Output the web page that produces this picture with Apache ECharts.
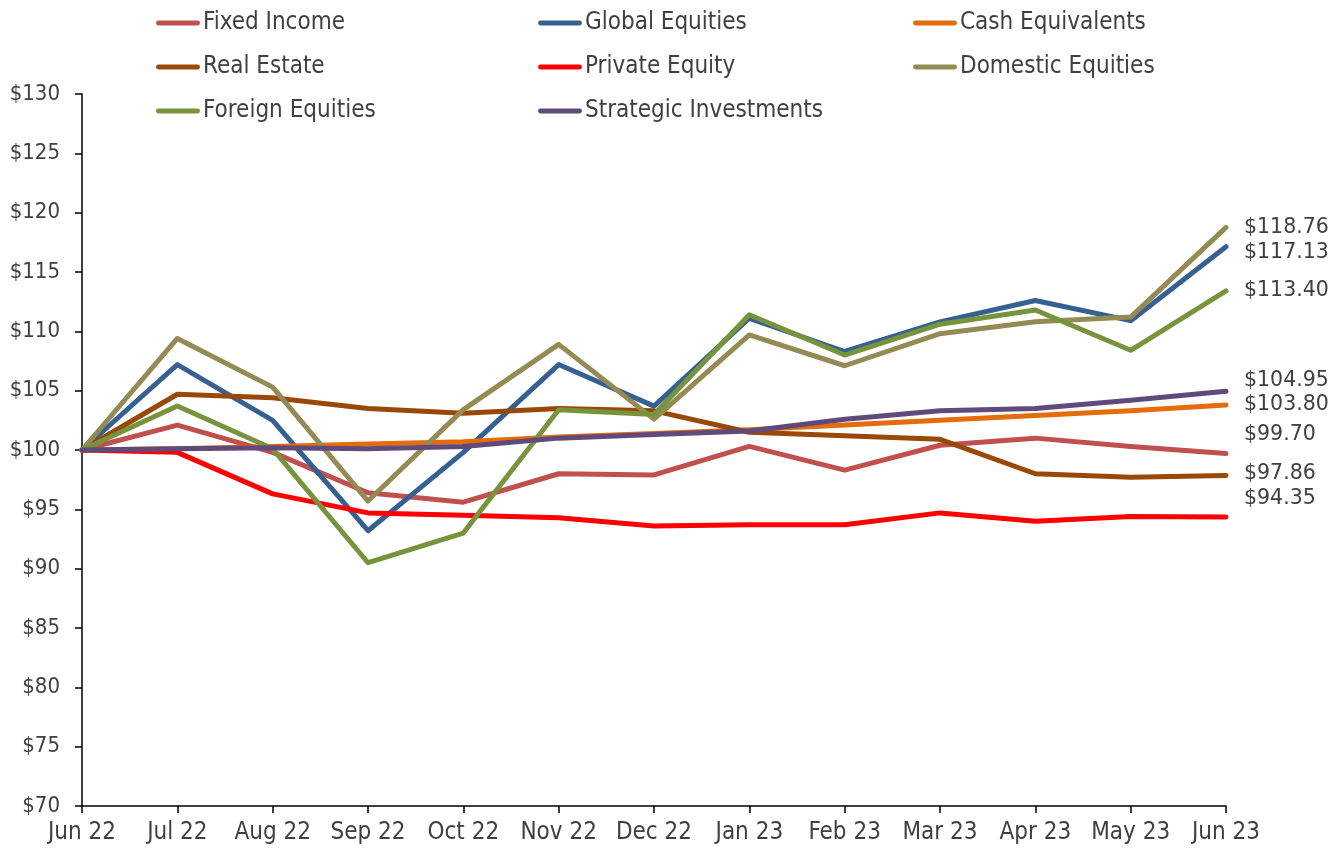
<!DOCTYPE html>
<html>
<head>
<meta charset="UTF-8"/>
<title>Asset class growth of $100</title>
<script src="https://cdn.jsdelivr.net/npm/echarts@6/dist/echarts.min.js"></script>
<style>
  html, body { margin: 0; padding: 0; background: #fff; }
  #chart { width: 1342px; height: 851px; }
</style>
</head>
<body>
<div id="chart"></div>
<script>
var months = ['Jun 22','Jul 22','Aug 22','Sep 22','Oct 22','Nov 22','Dec 22','Jan 23','Feb 23','Mar 23','Apr 23','May 23','Jun 23'];

var fixedIncome     = [100, 102.1, 99.8, 96.4, 95.6, 98.0, 97.9, 100.3, 98.3, 100.4, 101.0, 100.3, 99.70];
var globalEquities  = [100, 107.2, 102.5, 93.2, 99.8, 107.2, 103.7, 111.1, 108.3, 110.8, 112.6, 110.9, 117.13];
var cashEquivalents = [100, 100.1, 100.3, 100.5, 100.7, 101.1, 101.4, 101.7, 102.1, 102.5, 102.9, 103.3, 103.80];
var realEstate      = [100, 104.7, 104.4, 103.5, 103.1, 103.5, 103.3, 101.5, 101.2, 100.9, 98.0, 97.7, 97.86];
var privateEquity   = [100, 99.8, 96.3, 94.7, 94.5, 94.3, 93.6, 93.7, 93.7, 94.7, 94.0, 94.4, 94.35];
var domesticEquities= [100, 109.4, 105.3, 95.7, 103.4, 108.9, 102.6, 109.7, 107.1, 109.8, 110.8, 111.2, 118.76];
var foreignEquities = [100, 103.7, 100.1, 90.5, 93.0, 103.4, 103.0, 111.4, 108.0, 110.6, 111.8, 108.4, 113.40];
var strategicInv    = [100, 100.1, 100.2, 100.1, 100.3, 101.0, 101.3, 101.6, 102.6, 103.3, 103.5, 104.2, 104.95];

var yTicks = { min: 70, max: 130, step: 5 };

var FONT = "'DejaVu Sans Condensed', 'DejaVu Sans', sans-serif";

// name, values, colour, vertical nudge of the end label
var seriesDefs = [
  ['Fixed Income', fixedIncome, '#C0504D', -19],
  ['Global Equities', globalEquities, '#376092', 6],
  ['Cash Equivalents', cashEquivalents, '#E46C0A', 0],
  ['Real Estate', realEstate, '#984807', -2],
  ['Private Equity', privateEquity, '#FF0000', -18],
  ['Domestic Equities', domesticEquities, '#948A54', 0],
  ['Foreign Equities', foreignEquities, '#77933C', 0],
  ['Strategic Investments', strategicInv, '#604A7B', -11]
];

var series = seriesDefs.map(function (d) {
  return {
    name: d[0],
    type: 'line',
    data: d[1],
    symbol: 'none',
    color: d[2],
    lineStyle: { width: 5, color: d[2], cap: 'round', join: 'round' },
    endLabel: {
      show: true,
      distance: 18,
      offset: [0, d[3]],
      formatter: function (p) { return '$' + Number(p.value).toFixed(2); },
      fontFamily: "'DejaVu Sans', sans-serif",
      fontSize: 20.5,
      color: '#404040'
    },
    emphasis: { disabled: true },
    animation: false
  };
});

var legendIcon = 'path://M2.5,0 h40 a2.5,2.5 0 0 1 0,5 h-40 a2.5,2.5 0 0 1 0,-5 z';
function legendCol(left, names) {
  return {
    orient: 'vertical',
    left: left,
    top: 11,
    padding: 0,
    data: names,
    icon: legendIcon,
    itemWidth: 44,
    itemHeight: 5,
    itemGap: 20,
    selectedMode: false,
    textStyle: { fontFamily: FONT, fontSize: 24, color: '#404040', padding: [0, 0, 0, -2], lineHeight: 24 }
  };
}

var chart = echarts.init(document.getElementById('chart'));
chart.setOption({
  backgroundColor: '#ffffff',
  animation: false,
  legend: [
    legendCol(156, ['Fixed Income', 'Real Estate', 'Foreign Equities']),
    legendCol(538, ['Global Equities', 'Private Equity', 'Strategic Investments']),
    legendCol(913, ['Cash Equivalents', 'Domestic Equities'])
  ],
  grid: { left: 82, right: 116, top: 94, bottom: 45, containLabel: false },
  xAxis: {
    type: 'category',
    data: months,
    boundaryGap: false,
    axisLine: { lineStyle: { color: '#000', width: 1.5 } },
    axisTick: { alignWithLabel: true, interval: 0, length: 7, lineStyle: { color: '#000', width: 1.5 } },
    axisLabel: { interval: 0, hideOverlap: false, fontFamily: FONT, fontSize: 24, color: '#404040', margin: 15 },
    splitLine: { show: false }
  },
  yAxis: {
    type: 'value',
    min: yTicks.min,
    max: yTicks.max,
    interval: yTicks.step,
    axisLine: { show: true, lineStyle: { color: '#000', width: 1.5 } },
    axisTick: { show: true, length: 7, lineStyle: { color: '#000', width: 1.5 } },
    axisLabel: { fontFamily: FONT, fontSize: 22, color: '#404040', margin: 22, formatter: '${value}' },
    splitLine: { show: false }
  },
  series: series
});
</script>
</body>
</html>
